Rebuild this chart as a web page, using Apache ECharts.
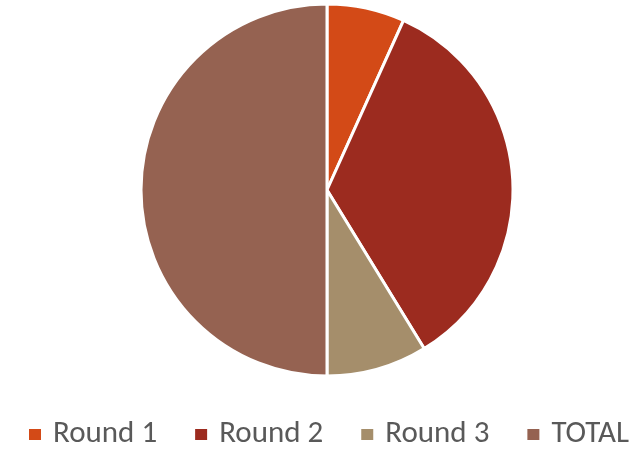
<!DOCTYPE html>
<html><head><meta charset="utf-8">
<script src="https://cdn.jsdelivr.net/npm/echarts@6/dist/echarts.min.js"></script>
<style>html,body{margin:0;padding:0;background:#fff}#c{width:641px;height:455px}</style>
</head><body><div id="c"></div>
<script>
const categories = ['Round 1', 'Round 2', 'Round 3', 'TOTAL'];
const values = [27, 138, 35, 200];
const colors = ['#D34A17', '#9C2B1F', '#A58E6B', '#956251'];

const chart = echarts.init(document.getElementById('c'));
chart.setOption({
  animation: false,
  color: colors,
  legend: {
    data: categories,
    top: 419,
    left: 27,
    padding: 0,
    icon: 'rect',
    itemWidth: 14,
    itemHeight: 13,
    itemGap: 36,
    textStyle: { fontSize: 31, color: '#595959', padding: [0, 0, 0, 6], fontFamily: "'Carlito','Liberation Sans Narrow','Open Sans',sans-serif" }
  },
  series: [{
    type: 'pie',
    center: [327, 190],
    radius: 186,
    startAngle: 90,
    clockwise: true,
    label: { show: false },
    labelLine: { show: false },
    itemStyle: { borderColor: '#fff', borderWidth: 3 },
    data: categories.map((n, i) => ({ name: n, value: values[i] }))
  }]
});
</script></body></html>
